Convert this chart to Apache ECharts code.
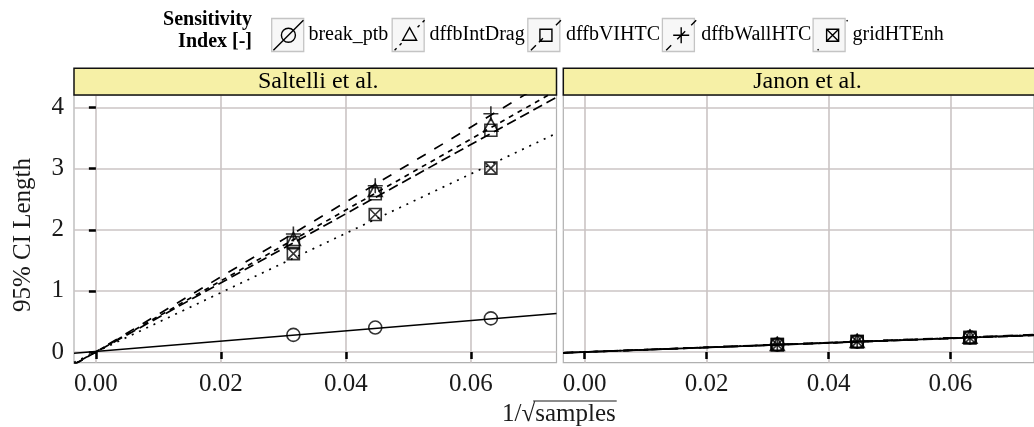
<!DOCTYPE html>
<html><head><meta charset="utf-8">
<script src="https://cdn.jsdelivr.net/npm/echarts@6/dist/echarts.min.js"></script>
<style>html,body{margin:0;padding:0;background:#fff}#c{width:1034px;height:427px}</style>
</head><body><div id="c"></div>
<script>
// ---------------- data ----------------
const seriesNames = ['break_ptb', 'dffbIntDrag', 'dffbVIHTC', 'dffbWallHTC', 'gridHTEnh'];
const panelNames = ['Saltelli et al.', 'Janon et al.'];
const xValues = [0.0316, 0.0447, 0.0632];           // 1/sqrt(samples): 1000, 500, 250
const xTicks = [0, 0.02, 0.04, 0.06];
const yTicks = [0, 1, 2, 3, 4];
const xRange = [-0.0035, 0.0737];
const yRange = [-0.175, 4.206];

const saltelliBreakPtb = [0.28, 0.40, 0.55];
const saltelliIntDrag  = [1.85, 2.65, 3.72];
const saltelliVIHTC    = [1.79, 2.59, 3.63];
const saltelliWallHTC  = [1.93, 2.72, 3.90];
const saltelliGridHTEnh = [1.61, 2.25, 3.01];

const janonBreakPtb = [0.12, 0.17, 0.24];
const janonIntDrag  = [0.13, 0.18, 0.25];
const janonVIHTC    = [0.12, 0.17, 0.24];
const janonWallHTC  = [0.13, 0.18, 0.25];
const janonGridHTEnh = [0.12, 0.17, 0.23];

// fitted lines, read at the left and right panel edges (x = fitX)
const fitX = [-0.0035, 0.0737];
const saltelliFitStart = [-0.02, -0.20, -0.20, -0.21, -0.17];
const saltelliFitEnd   = [0.63, 4.28, 4.17, 4.52, 3.58];
const janonFitStart = [-0.013, -0.013, -0.013, -0.014, -0.013];
const janonFitEnd   = [0.275, 0.280, 0.272, 0.285, 0.277];

// ---------------- styles ----------------
const FONT = '"Liberation Serif", "Times New Roman", serif';
const lineDash = ['solid', [5, 5], [10, 5], [10, 10], [2, 6]];
const markerPaths = [
  'path://M1,0A1,1,0,1,1,-1,0A1,1,0,1,1,1,0Z',
  'path://M0,-1L1,0.8L-1,0.8Z',
  'path://M-1,-1L1,-1L1,1L-1,1Z',
  'path://M0,-1L0,1M-1,0L1,0',
  'path://M-1,-1L1,-1L1,1L-1,1ZM-1,-1L1,1M1,-1L-1,1'
];
const markerSizes = [13, [14, 13], 12, 15, 12];
const legendIcons = [
  'path://M1,31L31,1M23,16A7,7,0,1,1,9,16A7,7,0,1,1,23,16Z',
  'path://M1,31L3,29M6,26L8,24M24,8L26,6M29,3L31,1M16,8.5L23,21L9,21Z',
  'path://M1,31L6,26M9,23L13,19M26,6L31,1M10,10L22,10L22,22L10,22Z',
  'path://M1,31L6,26M12,20L20,12M26,6L31,1M16,8L16,24M8,16L24,16',
  'path://M1,31L2,30M30,2L31,1M10,10L22,10L22,22L10,22ZM10,10L22,22M22,10L10,22'
];

const panels = [
  { values: [saltelliBreakPtb, saltelliIntDrag, saltelliVIHTC, saltelliWallHTC, saltelliGridHTEnh],
    fitStart: saltelliFitStart, fitEnd: saltelliFitEnd },
  { values: [janonBreakPtb, janonIntDrag, janonVIHTC, janonWallHTC, janonGridHTEnh],
    fitStart: janonFitStart, fitEnd: janonFitEnd }
];

const gridTop = 95, gridH = 267.7, gridW = 482.5;
const gridLefts = [74, 563.3];

const series = [];
panels.forEach((p, pi) => {
  seriesNames.forEach((name, i) => {
    series.push({
      type: 'line', name, xAxisIndex: pi, yAxisIndex: pi, silent: true,
      showSymbol: false, symbol: 'none', z: 2, animation: false,
      lineStyle: { color: '#000', width: 1.7, type: lineDash[i] },
      data: [[fitX[0], p.fitStart[i]], [fitX[1], p.fitEnd[i]]]
    });
  });
  seriesNames.forEach((name, i) => {
    series.push({
      type: 'scatter', name, xAxisIndex: pi, yAxisIndex: pi, silent: true, z: 3, animation: false,
      symbol: markerPaths[i], symbolSize: markerSizes[i],
      itemStyle: { color: 'rgba(0,0,0,0)', borderColor: '#000', borderWidth: 1.6 },
      data: xValues.map((x, k) => [x, p.values[i][k]])
    });
  });
});

function xAxisOf(gi) {
  return {
    type: 'value', gridIndex: gi, min: xRange[0], max: xRange[1],
    axisLine: { show: false },
    axisTick: { show: true, length: 7, customValues: xTicks, lineStyle: { color: '#000', width: 2.5 } },
    axisLabel: { customValues: xTicks, margin: 9, fontSize: 25, fontFamily: FONT, color: '#1a1a1a',
                 formatter: v => v.toFixed(2) },
    splitLine: { show: true, lineStyle: { color: '#cbc4c4', width: 1.6 } }
  };
}
function yAxisOf(gi) {
  return {
    type: 'value', gridIndex: gi, min: yRange[0], max: yRange[1],
    axisLine: { show: false },
    axisTick: { show: gi === 0, length: 7, customValues: yTicks, lineStyle: { color: '#000', width: 2.5 } },
    axisLabel: { show: gi === 0, customValues: yTicks, margin: 10, fontSize: 25, fontFamily: FONT, color: '#1a1a1a' },
    splitLine: { show: true, lineStyle: { color: '#cbc4c4', width: 1.6 } }
  };
}

// legend layout helpers (boxes behind legend keys)
const legendLeft = 272.7, legendTop = 19.5, iconW = 30, iconH = 31, itemGap = 5.5;
const mctx = document.createElement('canvas').getContext('2d');
mctx.font = '20px ' + FONT;
const graphics = [];
let cx = legendLeft;
seriesNames.forEach(n => {
  graphics.push({ type: 'rect', z: 1, silent: true,
    shape: { x: cx - 1, y: legendTop - 1, width: iconW + 2, height: iconH + 2 },
    style: { fill: '#f7f7f7', stroke: '#c4c4c4', lineWidth: 1.3 } });
  cx += iconW + 5 + mctx.measureText(n).width + itemGap;
});

// legend title
graphics.push({ type: 'text', silent: true, x: 252, y: 31,
  style: { text: 'Sensitivity\nIndex [-]', align: 'right', verticalAlign: 'middle',
           font: 'bold 20px ' + FONT, lineHeight: 22, fill: '#000' } });

// strips
panelNames.forEach((pn, pi) => {
  graphics.push({ type: 'rect', silent: true, z: 1,
    shape: { x: gridLefts[pi], y: 68.3, width: gridW, height: 26.7 },
    style: { fill: '#f6f0a6', stroke: '#111', lineWidth: 1.5 } });
  graphics.push({ type: 'text', silent: true, z: 2, x: gridLefts[pi] + gridW / 2 + 3, y: 82,
    style: { text: pn, align: 'center', verticalAlign: 'middle', font: '24px ' + FONT, fill: '#000' } });
});

// y axis title
graphics.push({ type: 'text', silent: true, x: 23, y: 235, rotation: Math.PI / 2,
  style: { text: '95% CI Length', align: 'center', verticalAlign: 'middle', font: '25px ' + FONT, fill: '#1a1a1a' } });

// x axis title: 1/√samples with overline
mctx.font = '25px ' + FONT;
const xtLeft = 502, xtY = 414;
const wPre = mctx.measureText('1/\u221A').width;
const wAll = mctx.measureText('1/\u221Asamples').width;
graphics.push({ type: 'text', silent: true, x: xtLeft, y: xtY,
  style: { text: '1/\u221Asamples', align: 'left', verticalAlign: 'middle', font: '25px ' + FONT, fill: '#1a1a1a' } });
graphics.push({ type: 'line', silent: true,
  shape: { x1: xtLeft + wPre - 2, y1: 401, x2: xtLeft + wAll + 1, y2: 401 },
  style: { stroke: '#1a1a1a', lineWidth: 1.2 } });

const option = {
  animation: false,
  backgroundColor: '#ffffff',
  textStyle: { fontFamily: FONT },
  legend: {
    left: legendLeft, top: legendTop, padding: 0, orient: 'horizontal',
    itemWidth: iconW, itemHeight: iconH, itemGap: itemGap, selectedMode: false,
    textStyle: { fontFamily: FONT, fontSize: 20, color: '#000' },
    data: seriesNames.map((n, i) => ({
      name: n, icon: legendIcons[i],
      itemStyle: { color: 'rgba(0,0,0,0)', borderColor: '#000', borderWidth: 1.4 }
    }))
  },
  grid: gridLefts.map(l => ({ left: l, top: gridTop, width: gridW, height: gridH, show: true,
    backgroundColor: '#fff', borderColor: '#b0b0b0', borderWidth: 1.2, containLabel: false })),
  xAxis: [xAxisOf(0), xAxisOf(1)],
  yAxis: [yAxisOf(0), yAxisOf(1)],
  graphic: graphics,
  series
};
const chart = echarts.init(document.getElementById('c'));
chart.setOption(option);
</script>
</body></html>
